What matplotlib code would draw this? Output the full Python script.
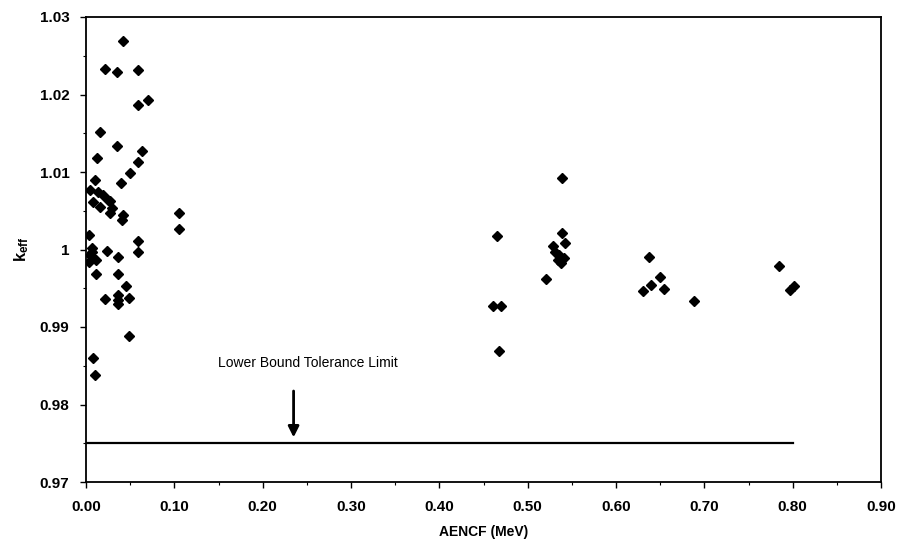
import matplotlib
matplotlib.use("Agg")
import matplotlib.pyplot as plt
from matplotlib.ticker import MultipleLocator, FormatStrFormatter, FuncFormatter

plt.rcParams['font.family'] = ['Liberation Sans', 'DejaVu Sans']
plt.rcParams['mathtext.fontset'] = 'custom'
plt.rcParams['mathtext.rm'] = 'Liberation Sans:bold'
plt.rcParams['mathtext.bf'] = 'Liberation Sans:bold'
plt.rcParams['mathtext.it'] = 'Liberation Sans:bold'

# AENCF (MeV) values
aencf = [0.0415, 0.0215, 0.0355, 0.0593, 0.0706, 0.0593, 0.0159, 0.0355, 0.0128, 0.063,
         0.0593, 0.0498, 0.0393, 0.0102,
         0.0045, 0.0136, 0.019, 0.008, 0.025, 0.016, 0.029, 0.027,
         0.0272, 0.0423, 0.0411, 0.1057, 0.1057, 0.0038, 0.0593, 0.0234, 0.0593, 0.0064,
         0.004, 0.008, 0.011, 0.003, 0.007, 0.0366, 0.011, 0.0366, 0.0453, 0.0215,
         0.0366, 0.0366, 0.0366, 0.049, 0.049, 0.0076, 0.0102,
         0.4658, 0.5387, 0.5387, 0.5425, 0.5285, 0.531, 0.536, 0.541, 0.534, 0.538,
         0.5206, 0.4613, 0.4696, 0.468,
         0.6368, 0.650, 0.6305, 0.6395, 0.6546, 0.6878, 0.784, 0.797, 0.802]
# k_eff values
keff = [1.0269, 1.0233, 1.0229, 1.0232, 1.0193, 1.0187, 1.0152, 1.0134, 1.0118, 1.0127,
        1.0113, 1.0099, 1.0086, 1.0090,
        1.0077, 1.0074, 1.0070, 1.0061, 1.0064, 1.0055, 1.0054, 1.0062,
        1.0047, 1.0045, 1.0038, 1.0047, 1.0027, 1.0019, 1.0011, 0.9998, 0.9997, 1.0002,
        0.9993, 0.9989, 0.9986, 0.9984, 0.9997, 0.9990, 0.9968, 0.9969, 0.9953, 0.9936,
        0.9941, 0.9935, 0.9930, 0.9938, 0.9888, 0.9860, 0.9838,
        1.0017, 1.0092, 1.0021, 1.0008, 1.0005, 0.9997, 0.9993, 0.9989, 0.9986, 0.9983,
        0.9962, 0.9927, 0.9927, 0.9869,
        0.9990, 0.9965, 0.9947, 0.9954, 0.9949, 0.9934, 0.9979, 0.9948, 0.9953]

limit_x = [0.0, 0.80]
limit_y = [0.975, 0.975]
limit_label = "Lower Bound Tolerance Limit"
x_ticks = [0.0, 0.1, 0.2, 0.3, 0.4, 0.5, 0.6, 0.7, 0.8, 0.9]
y_ticks = [0.97, 0.98, 0.99, 1.0, 1.01, 1.02, 1.03]

fig = plt.figure(figsize=(9.02, 5.48), dpi=100)
ax = fig.add_axes([86/902, 1-482/548, (881-86)/902, (482-17)/548])

ax.plot(aencf, keff, linestyle='none', marker='D', markersize=5.5, color='black')
ax.plot(limit_x, limit_y, color='black', linewidth=1.6)

ax.annotate('', xy=(0.235, 0.9754), xytext=(0.235, 0.9821),
            arrowprops=dict(arrowstyle='-|>', color='black', lw=2.0, mutation_scale=16))
ax.text(0.251, 0.9853, limit_label, ha='center', va='center', fontsize=10)

ax.set_xlim(0, 0.9)
ax.set_ylim(0.97, 1.03)
ax.set_xticks(x_ticks)
ax.set_yticks(y_ticks)
ax.xaxis.set_major_formatter(FormatStrFormatter('%.2f'))
ax.yaxis.set_major_formatter(FuncFormatter(lambda v, p: '1' if abs(v-1) < 1e-9 else ('%.2f' % v)))
ax.yaxis.set_minor_locator(MultipleLocator(0.005))
ax.xaxis.set_minor_locator(MultipleLocator(0.05))
ax.tick_params(axis='both', which='major', direction='out', length=4, width=1, labelsize=11)
ax.tick_params(axis='both', which='minor', direction='out', length=2, width=0.8)
ax.tick_params(axis='y', pad=8)
ax.tick_params(axis='x', pad=9)
for lab in ax.get_xticklabels() + ax.get_yticklabels():
    lab.set_fontweight('bold')
for s in ax.spines.values():
    s.set_linewidth(1.3)
    s.set_color('black')

ax.set_xlabel('AENCF (MeV)', fontsize=10, fontweight='bold', labelpad=8)
ax.set_ylabel(r'$\mathregular{k_{eff}}$', fontsize=12, fontweight='bold', labelpad=6)

fig.savefig('out.png', dpi=100)
